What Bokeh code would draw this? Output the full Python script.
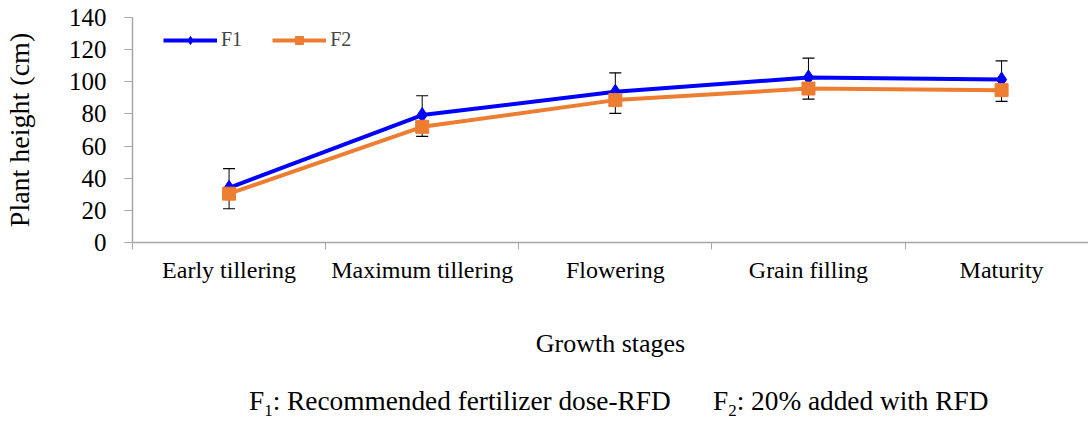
from bokeh.plotting import figure
from bokeh.models import (ColumnDataSource, Whisker, TeeHead, FixedTicker, Legend, LegendItem, Div, Range1d)
from bokeh.layouts import column
from bokeh.embed import file_html
from bokeh.resources import INLINE

# ---- data ----
stages = ["Early tillering", "Maximum tillering", "Flowering", "Grain filling", "Maturity"]
f1 = [34.0, 79.3, 93.8, 102.7, 101.4]
f2 = [30.4, 72.0, 88.6, 95.8, 94.8]
f1_err = [12.0, 12.0, 11.7, 12.0, 11.6]
f2_err = [9.4, 6.0, 8.3, 6.6, 7.0]
y_ticks = [0, 20, 40, 60, 80, 100, 120, 140]

FONT = "'Times New Roman', 'Liberation Serif', Tinos, 'Nimbus Roman', 'DejaVu Serif', serif"
xpos = [i + 0.5 for i in range(len(stages))]

src = ColumnDataSource(dict(
    x=xpos, f1=f1, f2=f2,
    f1_up=[a + b for a, b in zip(f1, f1_err)],
    f2_lo=[a - b for a, b in zip(f2, f2_err)],
))

p = figure(width=1088, height=360, output_backend="svg", toolbar_location=None,
           x_range=Range1d(0, 4.95), y_range=Range1d(0, 140),
           min_border_left=130, min_border_right=0, min_border_top=17, min_border_bottom=0)
p.outline_line_color = None
p.xgrid.visible = False
p.ygrid.visible = False

# error bars (F1 upward, F2 downward)
w1 = Whisker(source=src, base="x", lower="f1", upper="f1_up", line_color="black", line_width=1,
             upper_head=TeeHead(size=12, line_color="black", line_width=1.2), lower_head=None,
             level="underlay")
w2 = Whisker(source=src, base="x", lower="f2_lo", upper="f2", line_color="black", line_width=1,
             lower_head=TeeHead(size=12, line_color="black", line_width=1.2), upper_head=None,
             level="underlay")
p.add_layout(w1)
p.add_layout(w2)

BLUE = "#0000FF"
ORANGE = "#ED7D31"
l1 = p.line("x", "f1", source=src, line_color=BLUE, line_width=4)
m1 = p.scatter("x", "f1", source=src, marker="diamond", size=15, fill_color=BLUE, line_color=BLUE)
l2 = p.line("x", "f2", source=src, line_color=ORANGE, line_width=4)
m2 = p.scatter("x", "f2", source=src, marker="square", size=13, fill_color=ORANGE, line_color=ORANGE)

legend = Legend(items=[LegendItem(label="F1", renderers=[l1, m1]),
                       LegendItem(label="F2", renderers=[l2, m2])],
                orientation="horizontal", location=(31, 191),
                label_text_font=FONT, label_text_font_size="20px", label_standoff=4,
                glyph_width=54, glyph_height=20, spacing=30, padding=6,
                border_line_color=None, background_fill_alpha=0, margin=0)
p.add_layout(legend)

# x axis
xa = p.xaxis[0]
xa.ticker = FixedTicker(ticks=xpos, minor_ticks=[0, 1, 2, 3, 4, 5])
xa.major_label_overrides = {x: s for x, s in zip(xpos, stages)}
xa.major_tick_line_color = None
xa.major_tick_out = 0
xa.major_tick_in = 0
xa.minor_tick_out = 7
xa.minor_tick_in = 0
xa.minor_tick_line_color = "#a6a6a6"
xa.axis_line_color = "#a6a6a6"
xa.axis_line_width = 1.5
xa.major_label_text_font = FONT
xa.major_label_text_font_size = "24px"
xa.major_label_text_color = "black"
xa.major_label_standoff = 7
xa.axis_label = "Growth stages"
xa.axis_label_text_font = FONT
xa.axis_label_text_font_size = "26px"
xa.axis_label_text_font_style = "normal"
xa.axis_label_text_color = "black"
xa.axis_label_standoff = 43

# y axis
ya = p.yaxis[0]
ya.ticker = FixedTicker(ticks=y_ticks)
ya.minor_tick_line_color = None
ya.major_tick_out = 8
ya.major_tick_in = 0
ya.major_tick_line_color = "#a6a6a6"
ya.axis_line_color = "#a6a6a6"
ya.axis_line_width = 1.5
ya.major_label_text_font = FONT
ya.major_label_text_font_size = "25px"
ya.major_label_text_color = "black"
ya.major_label_standoff = 18
ya.axis_label = "Plant height (cm)"
ya.axis_label_text_font = FONT
ya.axis_label_text_font_size = "28px"
ya.axis_label_text_font_style = "normal"
ya.axis_label_text_color = "black"
ya.axis_label_standoff = 31

foot = Div(
    text=('<div style="position:relative;width:1088px;height:50px;font-family:' + FONT.replace("'", "&quot;") + ';'
          'font-size:27.3px;color:black;white-space:nowrap;">'
          '<span style="position:absolute;left:244px;top:17px;">F<sub style="font-size:17px">1</sub>: Recommended fertilizer dose-RFD</span>'
          '<span style="position:absolute;left:708px;top:17px;">F<sub style="font-size:17px">2</sub>: 20% added with RFD</span>'
          '</div>'),
    width=1088, height=61)

layout = column(p, foot, spacing=0)
open("out.html", "w").write(file_html(layout, INLINE))
